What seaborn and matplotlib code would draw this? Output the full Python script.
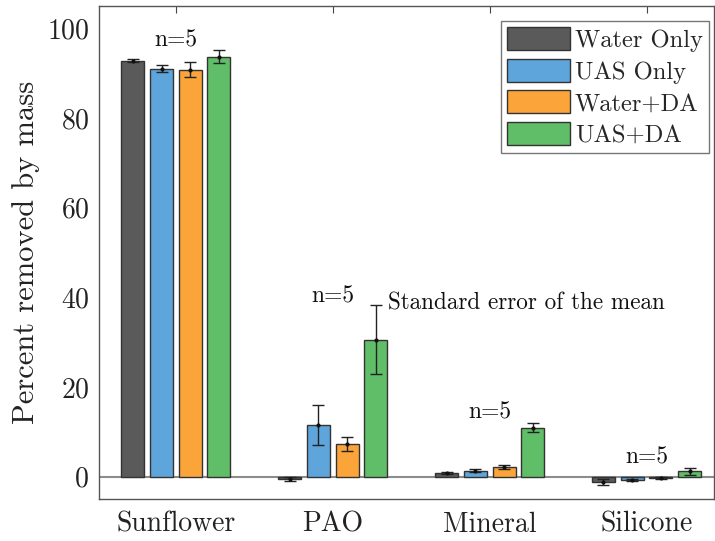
import matplotlib
matplotlib.use("Agg")
import matplotlib.pyplot as plt
import seaborn as sns
import pandas as pd
import numpy as np

categories = ["Sunflower", "PAO", "Mineral", "Silicone"]
treatments = ["Water Only", "UAS Only", "Water+DA", "UAS+DA"]
water_only = [92.8, -0.5, 0.8, -1.2]
water_only_se = [0.3, 0.4, 0.3, 0.6]
uas_only = [91.0, 11.5, 1.3, -0.7]
uas_only_se = [0.8, 4.5, 0.3, 0.2]
water_da = [90.8, 7.3, 2.1, -0.4]
water_da_se = [1.6, 1.5, 0.4, 0.2]
uas_da = [93.7, 30.5, 10.9, 1.2]
uas_da_se = [1.4, 7.7, 1.0, 0.8]
n_labels = ["n=5", "n=5", "n=5", "n=5"]
n_label_y = [97.4, 40.2, 14.3, 4.2]
note_text = "Standard error of the mean"

colors = ["#5a5a5a", "#5da5da", "#faa43a", "#60bd68"]

means = [water_only, uas_only, water_da, uas_da]
ses = [water_only_se, uas_only_se, water_da_se, uas_da_se]
rows = []
for t, m, s in zip(treatments, means, ses):
    for c, mv, sv in zip(categories, m, s):
        rows.append({"oil": c, "treatment": t, "mean": mv, "se": sv})
df = pd.DataFrame(rows)

sns.set_style("white")
plt.rcParams["font.family"] = ["cmr10", "DejaVu Serif"]
plt.rcParams["axes.formatter.use_mathtext"] = True
plt.rcParams["mathtext.fontset"] = "cm"

fig = plt.figure(figsize=(7.15, 5.41), dpi=100)
ax = fig.add_axes([99 / 715, 1 - 499 / 541, 615 / 715, 493 / 541])

ax.axhline(0, color="#8c8c8c", lw=1.5, zorder=1)

sns.barplot(data=df, x="oil", y="mean", hue="treatment", order=categories,
            hue_order=treatments, palette=colors, errorbar=None,
            width=0.733, gap=0.2, saturation=1, edgecolor="#333333",
            linewidth=1.0, ax=ax, zorder=2)

for cont, s in zip(ax.containers, ses):
    xs = [p.get_x() + p.get_width() / 2 for p in cont]
    ys = [p.get_y() + p.get_height() for p in cont]
    ax.errorbar(xs, ys, yerr=s, fmt="o", color="#111111", ecolor="#222222",
                elinewidth=1.0, capsize=4, capthick=1.0, markersize=2.0, zorder=3)

for i, (lab, y) in enumerate(zip(n_labels, n_label_y)):
    ax.text(i, y, lab, ha="center", va="center", fontsize=17, color="#111111")
ax.text(1.353, 38.6, note_text, ha="left", va="center", fontsize=16.7,
        color="#111111")

ax.set_xlim(-0.49, 3.43)
ax.set_ylim(-5, 105)
ax.set_yticks([0, 20, 40, 60, 80, 100])
ax.set_xlabel("")
ax.set_ylabel("Percent removed by mass", fontsize=22, color="#222222", labelpad=5)
ax.tick_params(axis="both", direction="in", length=5, width=0.8, colors="#444444",
               labelcolor="#222222", labelsize=20, top=True, right=False)
ax.tick_params(axis="y", pad=7)
ax.tick_params(axis="x", pad=9)
for sp in ax.spines.values():
    sp.set_color("#555555")
    sp.set_linewidth(1.0)

sns.move_legend(ax, "upper right", bbox_to_anchor=(709 / 715, 1 - 21 / 541),
                bbox_transform=fig.transFigure, borderaxespad=0, title=None,
                fontsize=17.7, frameon=True, fancybox=False, framealpha=1,
                edgecolor="#777777", handlelength=2.55, handleheight=1.05,
                handletextpad=0.2, labelspacing=0.28, borderpad=0.25)
leg = ax.get_legend()
for h in leg.legend_handles:
    h.set_edgecolor("#333333")
    h.set_linewidth(1.0)
leg.get_frame().set_linewidth(1.0)

fig.savefig("out.png", dpi=100)
